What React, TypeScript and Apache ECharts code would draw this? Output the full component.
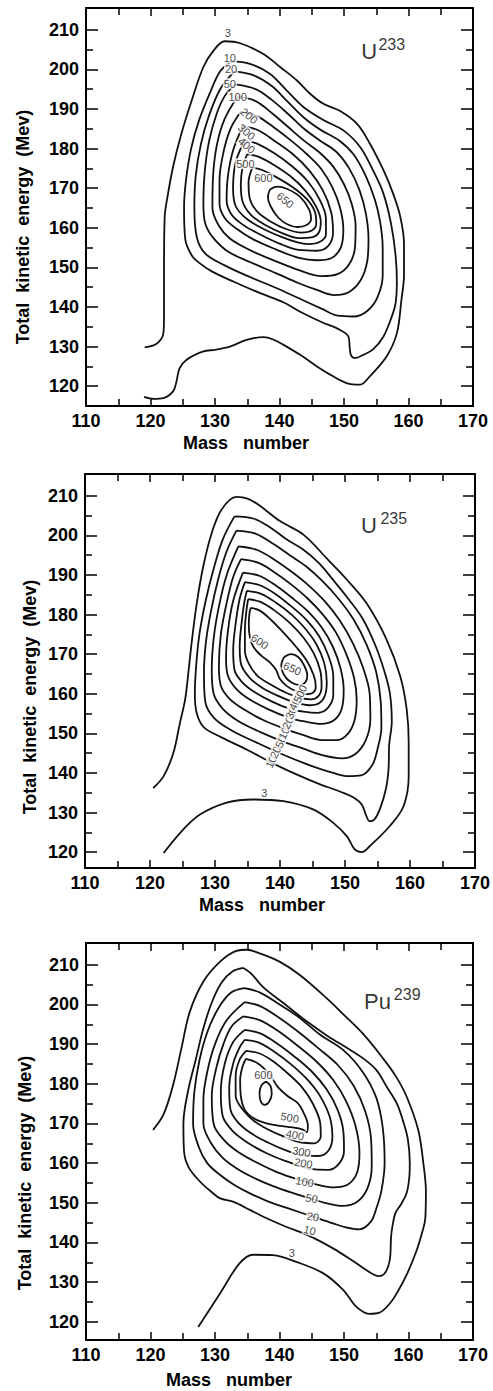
import React, { useEffect, useRef } from 'react';
import * as echarts from 'echarts';

// ---------- axis ticks ----------
const massTicks = [110, 120, 130, 140, 150, 160, 170];
const energyMajor = [120, 130, 140, 150, 160, 170, 180, 190, 200, 210];
const energyMinor = [125, 135, 145, 155, 165, 175, 185, 195, 205];

// ---------- U233 contours (mass number, total kinetic energy) ----------
const U233_C3 = [[119.1,129.8],[121.0,130.8],[122.0,133.4],[122.1,137.6],[122.1,150.2],[122.2,162.8],[122.6,167.5],[123.5,175.4],[124.8,183.8],[126.4,192.2],[128.2,200.6],[129.8,204.8],[131.5,207.1],[133.9,206.6],[137.5,203.9],[140.1,200.6],[142.7,197.2],[144.7,193.9],[146.8,191.3],[149.4,189.5],[152,186.3],[154,181.3],[156.1,174.6],[157.6,168.7],[158.7,163],[159.3,156],[159.3,148],[158.9,141.8],[158.2,133.4],[156.6,127.5],[154,122.5],[152.5,120.4],[150.4,120.8],[148,122.8],[145.8,125],[143.5,127.6],[141.1,130],[139,131.8],[137.5,132.4],[134.9,131.7],[132.3,130],[130,129.2],[128.2,128.8],[125.6,126.7],[124.5,124.5],[124,121],[123.5,118.7],[122,117],[120.5,116.8],[119,117.3]];
const U233_C10 = [[132.5,202],[135.4,201.4],[138.5,198.9],[141.1,194.7],[143.7,190.5],[146.8,187.2],[149.9,184.6],[152.5,180.4],[154.5,174.5],[156.1,168.7],[157.3,161],[158,153],[158.2,146],[158,141],[157.5,138],[156.1,132.5],[154.5,129.3],[153,127.9],[151.7,127.1],[151.1,127.8],[150.9,129.5],[150.7,132.5],[149.4,134.2],[146.5,136.2],[143.2,138.8],[140.6,141.2],[137,143.5],[133,146.3],[129.5,149],[127.5,151.2],[126.4,153],[125.4,157],[125.2,165],[125.5,172],[126.3,180],[127.5,187],[129.2,194],[130.8,199.5],[132.5,202]];
const U233_C20 = [[133,199.5],[136,198.5],[138.8,195.8],[141.3,191.8],[143.8,187.8],[146.5,184.6],[149.3,182],[151.5,178.5],[153.4,173],[154.8,167],[155.6,161.5],[156,155],[156,148],[155.2,142.5],[153.6,139],[151.5,137.6],[149,137.8],[146.5,139.6],[143,142.2],[139.5,144.8],[135.5,147.5],[131.5,150.5],[128.5,153.5],[127.2,157.5],[126.8,165],[127,173],[127.8,181],[129,188],[130.8,195],[133,199.5]];
const U233_C50 = [[133.2,196.2],[136.3,195],[138.8,192.3],[141.3,188.8],[143.8,185],[146.3,182],[148.8,179.2],[150.8,175],[152.4,169.5],[153.4,163.5],[153.8,157],[153.6,151.5],[152.6,146.8],[150.8,143.8],[148.5,143],[145.8,144.3],[143,146],[139.5,148.5],[135.5,151.3],[132,154],[129.7,157.5],[128.5,161],[128.2,166],[128.4,174],[129.1,182],[130.3,189],[131.6,193.5],[133.2,196.2]];
const U233_C100 = [[133.5,193.1],[136.3,192],[138.8,189],[141.3,185.5],[143.8,182],[146.2,179],[148.3,175.5],[150,171],[151.2,166],[151.8,160.5],[151.7,155],[150.8,150.8],[149,148.3],[146.5,147.8],[143,149.3],[139.5,151.5],[135.5,154.3],[132.3,157.3],[130.6,160.5],[129.6,165],[129.7,173],[130.3,181],[131.5,187.5],[133.5,193.1]];
const U233_C200 = [[134,189.3],[136.5,188.2],[139,185.5],[141.8,182],[144.3,178.5],[146.5,174.8],[148.2,170.2],[149.4,165],[149.9,159.5],[149.5,155],[148,152.3],[145.8,151.8],[143,152.4],[139.5,154.5],[136,157],[133.3,159.8],[131.5,162.5],[130.7,166],[130.7,172],[131.3,179],[132.4,185],[134,189.3]];
const U233_C300 = [[134.3,185.6],[136.6,184.7],[139.2,182],[142,178.7],[144.6,174.5],[146.7,169.5],[148,164],[148.3,158.8],[147.6,155.5],[145.8,154.2],[143,154.4],[140,156],[137,158.3],[134.3,160.8],[132.5,163.5],[131.8,167],[132,173],[132.8,179.5],[134.3,185.6]];
const U233_C400 = [[134.6,182.1],[136.6,181.2],[139.2,178.8],[141.9,175.6],[144.4,171.7],[146.2,167.2],[147.2,162.3],[147.2,158.4],[146.2,156.4],[144.5,155.9],[142.8,156.3],[140.3,157.7],[137.3,159.9],[134.8,162.4],[133.2,165.5],[132.8,170],[133.2,176.5],[134.6,182.1]];
const U233_C500 = [[135,178.6],[136.8,177.9],[139.2,175.8],[141.7,173],[144,169.4],[145.7,165.3],[146.4,161.6],[146.1,158.8],[145,157.6],[143,157.4],[140.5,158.6],[137.8,160.7],[135.6,163.2],[134.3,166.5],[134,171],[134.3,175.5],[135,178.6]];
const U233_C600 = [[135.8,175.2],[137.3,174.6],[139.5,172.8],[142,170.3],[144.2,167.3],[145.5,164],[145.7,161],[145,159.3],[143.4,158.8],[141,159.7],[138.6,161.6],[136.6,164],[135.4,167.3],[135.2,171.5],[135.8,175.2]];
const U233_C650 = [[138.5,169.6],[139.6,170.4],[141.2,169.8],[143.2,167.8],[144.6,164.6],[144.9,162.2],[144.2,160.7],[142.8,160.2],[141.2,160.9],[139.8,162.6],[138.6,165.5],[138.2,167.8],[138.5,169.6]];

// ---------- U235 contours ----------
const U235_C3 = [[120.5,136.2],[122.1,139.2],[123.6,145.1],[124.6,152.6],[125.4,158.5],[125.9,165.3],[126.4,172.8],[127.2,182.9],[128.2,192.2],[129.5,200.6],[131,206.5],[133.3,209.7],[135,209.3],[136.8,207.6],[140,203.6],[143.6,200.2],[147.3,194],[150.3,188.8],[153.3,182.9],[156.4,173.7],[158.5,164.4],[159.5,156],[159.8,147.6],[159.8,139.2],[159,131.6],[156.9,126.6],[153.8,121.5],[152.6,120],[151.5,120.7],[150.3,124],[148.2,127.4],[145.1,130.8],[140.5,132.9],[135.9,133.3],[131.8,132.5],[127.7,129.5],[125.1,125.7],[122.1,119.8]];
const U235_C10 = [[133,204.8],[136,204.2],[138.5,202],[141,199],[143.5,196.5],[146,193],[148.3,188.5],[150.5,184],[152.7,179],[154.6,172.5],[156,166],[156.9,160.2],[157.2,153],[156.8,147.2],[156.7,141],[156.3,136],[155.4,131],[154.5,128.2],[153.8,127.8],[153.2,129.5],[152.6,132],[151.5,133.6],[149.7,135],[145.6,137.5],[141.5,140.4],[138.7,142.6],[135,145.8],[131,149],[128.3,151.5],[127.2,155],[126.9,160],[127.1,167],[127.6,175],[128.5,183],[129.7,191],[131.2,199],[133,204.8]];
const U235_C20 = [[133.3,201.2],[136.3,200.4],[139,197.8],[141.5,195],[144,192.2],[146.5,188.5],[149,184],[151.3,178.8],[153.3,172.5],[154.8,165.5],[155.5,158],[155.6,151.5],[155,146],[154.2,142],[152.5,139.4],[150.5,139.2],[148.2,140],[144.5,142],[140.5,144.6],[136.5,147.6],[132.5,150.8],[129.8,154],[128.5,158],[128.3,165],[128.6,173],[129.4,181],[130.5,189],[131.8,196],[133.3,201.2]];
const U235_C50 = [[133.6,197.2],[136.5,196.3],[139.2,193.8],[141.8,190.8],[144.3,187.5],[146.8,183.5],[149.2,178.5],[151.2,172.8],[152.8,166.5],[153.8,160],[153.9,153.5],[153.2,148.3],[151.6,144.8],[149.5,143.7],[146.5,144.5],[143.5,146.2],[140.5,147.9],[137,150.3],[133.5,153.2],[131.2,156.2],[129.8,160],[129.5,166],[129.8,174],[130.6,182],[131.8,190],[133.6,197.2]];
const U235_C100 = [[134,194],[136.8,193],[139.3,190.5],[141.8,187.5],[144.3,184],[146.6,180],[148.6,175.5],[150.2,170],[151.4,164],[151.8,158.5],[151.5,153.5],[150.5,150],[148.8,148.3],[146.5,148.3],[143.5,149.6],[141,151],[137.5,153.3],[134.5,156],[132.2,158.8],[130.9,162],[130.6,167],[130.9,175],[131.8,183],[132.8,189.5],[134,194]];
const U235_C200 = [[134.3,190.6],[136.8,189.8],[139.3,187.4],[141.8,184.3],[144.3,180.8],[146.4,176.8],[148.1,172],[149.3,166.5],[149.8,161],[149.5,156.2],[148.3,153.3],[146.3,152.4],[143.8,153],[141.3,154],[138.3,156],[135.4,158.5],[133.3,161.2],[132,164.5],[131.7,169],[132,176],[132.8,183.5],[134.3,190.6]];
const U235_C300 = [[134.6,188.2],[136.9,187.4],[139.4,185.1],[141.8,182],[144.1,178.6],[146,174.6],[147.4,169.8],[148.2,164.5],[148.2,159.8],[147.4,156.5],[145.8,155.2],[143.6,155.5],[141.5,156.2],[138.8,158],[136.2,160.3],[134.2,162.9],[133,166],[132.8,171],[133.2,178],[133.8,184],[134.6,188.2]];
const U235_C400 = [[134.9,186],[137,185.3],[139.4,183],[141.7,180.1],[143.8,176.6],[145.6,172.5],[146.8,167.8],[147.2,163],[146.9,159.5],[146,157.6],[144.5,157.1],[142.3,157.8],[139.8,159.4],[137.2,161.6],[135.3,164.1],[134,167.5],[133.8,172],[134.1,178],[134.5,183],[134.9,186]];
const U235_C500 = [[135.1,183.9],[137,183.2],[139.2,181],[141.5,177.9],[143.6,174.2],[145.2,170.2],[146.2,165.8],[146.4,161.8],[145.9,159.4],[144.8,158.6],[143.3,158.9],[141,160.2],[138.7,162.2],[136.5,164.6],[135.2,167.6],[134.6,171],[134.6,176],[134.8,180.5],[135.1,183.9]];
const U235_C600 = [[135.5,181.7],[136.9,181],[138.6,178.7],[140.5,175.5],[142.4,172],[144.1,168.4],[145.2,164.6],[145.5,161.8],[145,160.2],[143.9,159.9],[142.4,160.7],[141,162],[140,163.7],[139.4,166],[138.4,168],[137.2,169.5],[136,171.6],[135.4,174],[135.2,177.5],[135.3,180.3],[135.5,181.7]];
const U235_C650 = [[140.6,169.2],[141.7,170],[142.8,169.3],[143.7,167.2],[144.2,164.7],[143.9,162.9],[143,162.2],[141.7,162.9],[140.6,164.8],[140.2,167.2],[140.6,169.2]];

// ---------- Pu239 contours ----------
const PU239_C3 = [[120.4,168.4],[122,172.2],[123.5,179.7],[124.8,189],[126.1,198.2],[128.2,205.8],[130.8,210.8],[133.3,213.5],[134.9,213.8],[136.9,212.9],[140,210.8],[143.1,207.5],[147.3,201.6],[149.9,197.5],[153,192.5],[156,186.5],[158,182],[159.7,176.8],[161.5,168.4],[162.3,160],[162.7,152.8],[162.6,146],[162.2,143],[161.2,137.7],[159.7,131.8],[158.3,127.5],[157.1,124.6],[155.5,122.3],[153.9,122],[151.9,123.8],[149.9,128],[146.8,132.2],[142.6,135.1],[139,136.8],[135.9,136.9],[133.8,134.7],[130.8,127.2],[127.4,118.7]];
const PU239_C10 = [[134.4,209.2],[135.6,207.8],[137.5,204.3],[140.5,200.5],[144,196],[147.5,192],[150.5,189],[152.9,186.5],[155,183.5],[156.6,179.3],[158.2,175],[159.1,170.9],[159.9,166],[160.2,160],[160.1,156],[159.7,152.4],[158.8,149.5],[158,147.5],[157.5,144],[157.3,141.4],[157.1,135.6],[156.4,132.4],[155.4,131.5],[153.5,133],[151.4,135.3],[148.3,138.5],[144.7,141.6],[141.1,143.9],[138,146.1],[135.4,148.2],[132.8,150.3],[130.8,151.1],[129.7,152.4],[127.7,155.3],[125.9,159],[125.2,163],[125.1,170],[125.8,178],[127,186],[128.2,194],[129.5,200.5],[131,205.5],[132.7,208.3],[134.4,209.2]];
const PU239_C20 = [[134.6,204.1],[137,203],[140,200],[143,196.8],[146.2,192.5],[149.9,188.5],[152.9,183],[155,176.5],[156,169],[156.3,160],[155.8,153],[155,148.5],[154.2,145.3],[152.4,143.3],[150.3,143.8],[148.3,144.8],[145,146.6],[141.5,148.5],[138,150.5],[135.5,152.3],[133,154.5],[130.8,157],[128.8,160],[127.5,164],[126.6,170],[126.8,178],[127.6,186],[128.8,193],[130.5,199],[132.5,203],[134.6,204.1]];
const PU239_C50 = [[134.6,200.6],[137,199.6],[140,196.6],[143,193],[146,189],[149,184.8],[151.5,179.5],[153.3,173],[154.2,166],[154.3,159],[153.6,153.5],[152,150.2],[149.8,149.2],[147,150],[145,151],[142,152.5],[139,154.2],[136,156.3],[133.5,158.5],[131.2,161.3],[129.4,165],[128.2,170],[128.2,176],[128.8,183],[130,190],[131.8,196],[134.6,200.6]];
const PU239_C100 = [[134.4,197],[137,196],[139.8,193.3],[142.8,189.6],[145.8,185.5],[148.3,181],[150.3,175.7],[151.8,169.3],[152.4,162.5],[152,157.5],[150.6,154.6],[148.4,153.9],[145.8,154.6],[142.8,155.9],[139.5,157.8],[136.4,160.2],[133.6,162.8],[131.4,165.8],[129.8,169.8],[129.5,177],[130.2,184],[131.3,190],[132.6,194.5],[134.4,197]];
const PU239_C200 = [[134.6,193.6],[137,192.7],[139.5,190.3],[142.3,186.9],[145,183.1],[147.3,178.6],[149,173.5],[149.9,168],[150,163],[149.2,159.8],[147.6,158.3],[145.5,158.4],[143.7,159],[141,160.5],[138,162.5],[135.2,165],[132.8,168],[131.2,171.8],[130.9,178],[131.5,185],[132.8,190.5],[134.6,193.6]];
const PU239_C300 = [[134.6,191.1],[136.8,190.4],[139.2,188.1],[141.8,184.9],[144.3,181.1],[146.3,176.9],[147.8,171.6],[148.2,166.6],[147.6,163.2],[146,161.8],[143.4,162],[141,163.2],[138.2,165.2],[135.6,167.5],[133.6,170.2],[132.4,173.5],[132.2,179],[132.8,185],[133.8,189.1],[134.6,191.1]];
const PU239_C400 = [[134.8,188.3],[136.8,187.7],[139,185.7],[141.3,182.6],[143.5,179.1],[145.2,174.9],[146.3,170.2],[146.4,166.7],[145.4,165],[143.4,165.2],[140.8,166.6],[138.3,168.4],[136,170.7],[134.3,173.5],[133.2,177],[133.2,182],[133.8,186],[134.8,188.3]];
const PU239_C500 = [[134.8,186.3],[136.6,185.2],[138.4,182.5],[139.7,179.3],[141.2,177],[142.8,175.2],[143.8,172.5],[144.4,169.5],[144.2,167.8],[143.5,168.5],[142,169],[140,169.4],[138,170],[136,171.3],[134.6,173.5],[134,177],[133.9,181],[134.3,184.5],[134.8,186.3]];
const PU239_C600 = [[137.9,180.6],[138.6,179.5],[138.8,177.5],[138.4,175.5],[137.7,174.7],[137.1,175.5],[136.9,177.6],[137.2,179.6],[137.9,180.6]];

// ---------- contour labels: [text, mass, energy, rotation] ----------
const U233_LABELS: [string, number, number, number][] = [
  ['3', 132, 209.3, 0], ['10', 132.3, 202.9, 0], ['20', 132.5, 200.1, 0], ['50', 132.3, 196.4, 0],
  ['100', 133.5, 193.0, 0], ['200', 135.3, 188.3, -40], ['300', 134.9, 184.2, -40], ['400', 134.9, 180.8, -40],
  ['500', 134.7, 176.2, 0], ['600', 137.5, 172.5, 0], ['650', 140.9, 167, -40],
];
const U235_LABELS: [string, number, number, number][] = [
  ['3', 137.6, 135.0, 0], ['600', 136.9, 173.2, -35], ['650', 141.9, 166.4, -25],
  ['10', 138.6, 142.8, 65], ['20', 139.3, 145.3, 65], ['50', 140.1, 147.9, 65], ['100', 140.8, 150.8, 65],
  ['200', 141.4, 153.4, 65], ['300', 141.9, 155.9, 65], ['400', 142.4, 158.1, 65], ['500', 143.1, 160.0, 65],
];
const PU239_LABELS: [string, number, number, number][] = [
  ['3', 141.9, 137.4, 0], ['10', 144.7, 143.1, -15], ['20', 145.2, 146.5, -10], ['50', 145.0, 151.1, -10],
  ['100', 143.9, 155.3, -10], ['200', 143.7, 160.0, -10], ['300', 143.4, 162.9, -10], ['400', 142.4, 167.1, -10],
  ['500', 141.6, 171.5, -10], ['600', 137.5, 182.2, 0],
];

// ---------- isotope names: [text, mass, energy, fontSize] ----------
const U233_NAME: [string, number, number, number][] = [['U', 153.9, 204.4, 22], ['233', 157.4, 206.4, 16]];
const U235_NAME: [string, number, number, number][] = [['U', 153.7, 202.5, 22], ['235', 157.5, 204.2, 16]];
const PU239_NAME: [string, number, number, number][] = [['Pu', 155.2, 200.7, 22], ['239', 159.8, 202.4, 16]];

const U233 = [U233_C3, U233_C10, U233_C20, U233_C50, U233_C100, U233_C200, U233_C300, U233_C400, U233_C500, U233_C600, U233_C650];
const U235 = [U235_C3, U235_C10, U235_C20, U235_C50, U235_C100, U235_C200, U235_C300, U235_C400, U235_C500, U235_C600, U235_C650];
const PU239 = [PU239_C3, PU239_C10, PU239_C20, PU239_C50, PU239_C100, PU239_C200, PU239_C300, PU239_C400, PU239_C500, PU239_C600];

const FONT = 'Liberation Sans';
const INK = '#111';

const PANELS = [
  { contours: U233, labels: U233_LABELS, name: U233_NAME, grid: { left: 86, top: 8, width: 387, height: 398 }, yMin: 115, yMax: 215.5, xTitle: [246, 443], yTitle: [23, 227] },
  { contours: U235, labels: U235_LABELS, name: U235_NAME, grid: { left: 85, top: 474, width: 390, height: 394 }, yMin: 116, yMax: 215.5, xTitle: [262, 905], yTitle: [30, 697] },
  { contours: PU239, labels: PU239_LABELS, name: PU239_NAME, grid: { left: 86, top: 943, width: 387, height: 397 }, yMin: 115.4, yMax: 215.5, xTitle: [229, 1380], yTitle: [25, 1173] },
];

function buildOption() {
  const grid: any[] = [];
  const xAxis: any[] = [];
  const yAxis: any[] = [];
  const series: any[] = [];
  const graphic: any[] = [];
  const lineStyle = { color: '#000', width: 2 };
  const tickStyle = { color: '#000', width: 1.5 };
  const tickFont = { fontSize: 18, fontFamily: FONT, color: '#000', fontWeight: 'bold' };

  PANELS.forEach((p, i) => {
    grid.push({ ...p.grid, containLabel: false });
    ['bottom', 'top'].forEach((pos) => {
      xAxis.push({
        gridIndex: i, type: 'value', position: pos, min: massTicks[0], max: massTicks[massTicks.length - 1], interval: 10,
        axisLine: { show: true, onZero: false, lineStyle },
        axisTick: { show: true, inside: true, length: 8, lineStyle: tickStyle },
        minorTick: { show: true, splitNumber: 2, length: 7, lineStyle: tickStyle },
        axisLabel: { show: pos === 'bottom', margin: 6, ...tickFont },
        splitLine: { show: false }, minorSplitLine: { show: false },
      });
    });
    ['left', 'right'].forEach((pos) => {
      yAxis.push({
        gridIndex: i, type: 'value', position: pos, min: p.yMin, max: p.yMax,
        axisLine: { show: true, onZero: false, lineStyle },
        axisTick: { show: true, inside: true, length: 12, lineStyle: tickStyle, customValues: energyMajor },
        axisLabel: { show: pos === 'left', margin: 7, ...tickFont, customValues: energyMajor },
        splitLine: { show: false },
      });
      yAxis.push({
        gridIndex: i, type: 'value', position: pos, min: p.yMin, max: p.yMax,
        axisLine: { show: false },
        axisTick: { show: true, inside: true, length: 7, lineStyle: tickStyle, customValues: energyMinor },
        axisLabel: { show: false },
        splitLine: { show: false },
      });
    });
    const xi = i * 2;
    const yi = i * 4;
    p.contours.forEach((pts) => {
      series.push({
        type: 'line', xAxisIndex: xi, yAxisIndex: yi, data: pts, smooth: 0.35, symbol: 'none', showSymbol: false,
        lineStyle: { color: INK, width: 1.8 }, silent: true, z: 2, clip: true,
      });
    });
    const lab = { show: true, position: 'inside', formatter: '{b}', fontSize: 11, fontFamily: FONT, color: INK, backgroundColor: '#fff', padding: [0, 1], textBorderWidth: 0 };
    series.push({
      type: 'scatter', xAxisIndex: xi, yAxisIndex: yi, symbolSize: 1, silent: true, z: 5,
      itemStyle: { color: 'rgba(0,0,0,0)' },
      data: p.labels.map(([t, m, e, r]) => ({ name: t, value: [m, e], label: { ...lab, rotate: r } })),
      label: lab,
    });
    const nameLab = { show: true, position: 'inside', formatter: '{b}', fontFamily: FONT, color: '#000', textBorderWidth: 0 };
    series.push({
      type: 'scatter', xAxisIndex: xi, yAxisIndex: yi, symbolSize: 1, silent: true, z: 5,
      itemStyle: { color: 'rgba(0,0,0,0)' },
      data: p.name.map(([t, m, e, fs]) => ({ name: t, value: [m, e], label: { ...nameLab, fontSize: fs } })),
      label: nameLab,
    });
    graphic.push({
      type: 'text', x: p.xTitle[0], y: p.xTitle[1],
      style: { text: 'Mass   number', fontSize: 18, fontWeight: 'bold', fontFamily: FONT, fill: '#000', align: 'center', verticalAlign: 'middle', textAlign: 'center', textVerticalAlign: 'middle' },
    });
    graphic.push({
      type: 'text', x: p.yTitle[0], y: p.yTitle[1], rotation: Math.PI / 2,
      style: { text: 'Total  kinetic  energy  (Mev)', fontSize: 18, fontWeight: 'bold', fontFamily: FONT, fill: '#000', align: 'center', verticalAlign: 'middle', textAlign: 'center', textVerticalAlign: 'middle' },
    });
  });

  return { animation: false, backgroundColor: '#fff', grid, xAxis, yAxis, series, graphic };
}

export default function App() {
  const ref = useRef<HTMLDivElement>(null);
  useEffect(() => {
    if (!ref.current) return;
    const chart = echarts.init(ref.current, undefined, { renderer: 'svg' });
    chart.setOption(buildOption() as any);
    return () => chart.dispose();
  }, []);
  return <div ref={ref} style={{ position: 'absolute', left: 0, top: 0, width: 493, height: 1391, background: '#fff' }} />;
}
